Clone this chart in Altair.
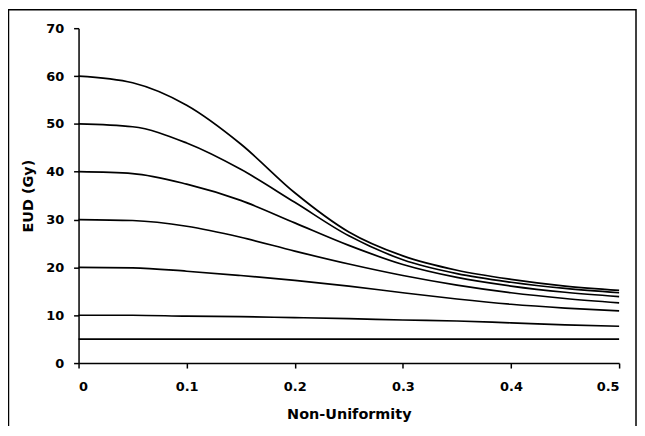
import altair as alt
import pandas as pd

# Non-uniformity values (x) shared by all curves
x_vals = [0, 0.05, 0.1, 0.15, 0.2, 0.25, 0.3, 0.35, 0.4, 0.45, 0.5]

# EUD (Gy) curves, labelled by their starting dose
eud_60 = [60, 58.6, 53.9, 45.8, 35.6, 27.4, 22.4, 19.4, 17.5, 16.1, 15.2]
eud_50 = [50, 49.4, 46.0, 40.5, 33.6, 26.6, 21.6, 18.7, 16.9, 15.6, 14.7]
eud_40 = [40, 39.6, 37.4, 34.0, 29.3, 24.6, 20.6, 17.9, 16.1, 14.8, 13.9]
eud_30 = [30, 29.8, 28.6, 26.3, 23.4, 20.7, 18.3, 16.3, 14.7, 13.5, 12.6]
eud_20 = [20, 19.9, 19.2, 18.3, 17.3, 16.1, 14.7, 13.4, 12.3, 11.5, 10.9]
eud_10 = [10, 10.0, 9.8, 9.7, 9.5, 9.3, 9.0, 8.8, 8.4, 8.0, 7.7]
eud_5 = [5, 5.0, 5.0, 5.0, 5.0, 5.0, 5.0, 5.0, 5.0, 5.0, 5.0]

x_ticks = [0, 0.1, 0.2, 0.3, 0.4, 0.5]
y_ticks = [0, 10, 20, 30, 40, 50, 60, 70]

series = {"60": eud_60, "50": eud_50, "40": eud_40, "30": eud_30,
          "20": eud_20, "10": eud_10, "5": eud_5}
rows = []
for name, vals in series.items():
    for xv, yv in zip(x_vals, vals):
        rows.append({"series": name, "x": xv, "y": yv})
df = pd.DataFrame(rows)

lines = alt.Chart(df).mark_line(
    color="black", strokeWidth=1.7, interpolate="monotone"
).encode(
    x=alt.X("x:Q", scale=alt.Scale(domain=[0, 0.5], nice=False),
            axis=alt.Axis(values=x_ticks, format=".1~f", title="Non-Uniformity",
                          labelPadding=13, titlePadding=14)),
    y=alt.Y("y:Q", scale=alt.Scale(domain=[0, 70], nice=False),
            axis=alt.Axis(values=y_ticks, title="EUD (Gy)",
                          labelPadding=10, titlePadding=10)),
    detail="series:N",
)

border = alt.Chart(pd.DataFrame({"a": [0]})).mark_rect(
    fill="transparent", stroke="black", strokeWidth=1.5
).encode(
    x=alt.value(-70.5), x2=alt.value(561), y=alt.value(-18.5), y2=alt.value(460)
)

chart = alt.layer(lines, border).properties(
    width=544, height=337,
    autosize=alt.AutoSizeParams(type="none"),
    padding={"left": 71, "top": 19, "right": 18, "bottom": 62},
    background="white",
).configure_axis(
    grid=False,
    domainColor="black", domainWidth=1.5,
    tickColor="black", tickWidth=1.5, tickSize=5,
    labelFont="DejaVu Sans", labelFontWeight="bold", labelFontSize=13, labelColor="black",
    titleFont="DejaVu Sans", titleFontWeight="bold", titleFontSize=14.5, titleColor="black",
).configure_view(strokeWidth=0)

chart.save("out.html", embed_options={"renderer": "svg", "actions": False})
